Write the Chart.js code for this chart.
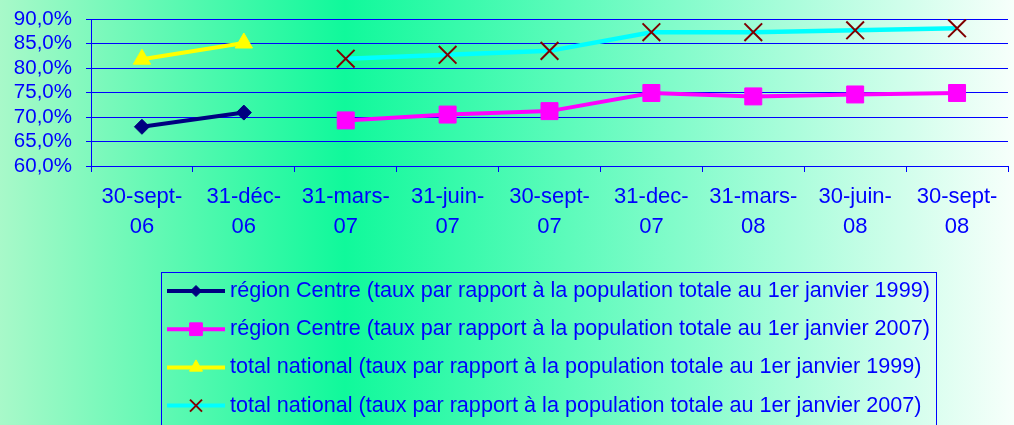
<!DOCTYPE html>
<html>
<head>
<meta charset="utf-8">
<script src="https://cdn.jsdelivr.net/npm/chart.js@4.4.1/dist/chart.umd.min.js"></script>
<style>
  html, body { margin: 0; padding: 0; background: #ffffff; }
  #wrap { width: 1014px; height: 425px; position: relative; }
</style>
</head>
<body>
<div id="wrap"><canvas id="tauxChart"></canvas></div>
<script>
// dates (2 lignes par libellé)
const categories = [
  ['30-sept-', '06'], ['31-déc-', '06'], ['31-mars-', '07'], ['31-juin-', '07'],
  ['30-sept-', '07'], ['31-dec-', '07'], ['31-mars-', '08'], ['30-juin-', '08'], ['30-sept-', '08']
];

const centre1999   = [68.0, 70.9, null, null, null, null, null, null, null];
const centre2007   = [null, null, 69.3, 70.5, 71.2, 74.9, 74.2, 74.6, 74.9];
const national1999 = [81.8, 85.1, null, null, null, null, null, null, null];
const national2007 = [null, null, 81.9, 82.7, 83.5, 87.3, 87.3, 87.7, 88.1];

const yTicks = [60, 65, 70, 75, 80, 85, 90];

const seriesLabels = [
  'région Centre (taux par rapport à la population totale au 1er janvier 1999)',
  'région Centre (taux par rapport à la population totale au 1er janvier 2007)',
  'total national (taux par rapport à la population totale au 1er janvier 1999)',
  'total national (taux par rapport à la population totale au 1er janvier 2007)'
];

const BLUE = '#0000ff';
const FONT = '"Liberation Sans", Arial, sans-serif';

// fond dégradé horizontal
const bgGradient = {
  id: 'bgGradient',
  beforeDraw(chart) {
    const { ctx, width, height } = chart;
    const g = ctx.createLinearGradient(0, 0, width, 0);
    g.addColorStop(0, '#a8f9c9');
    g.addColorStop(0.34, '#10f99b');
    g.addColorStop(1, '#f7fffb');
    ctx.save();
    ctx.fillStyle = g;
    ctx.fillRect(0, 0, width, height);
    ctx.restore();
  }
};

// légende encadrée, alignée à gauche
const legendRadius = [5.5, 9, 7.5, 8.5];
const legendBox = {
  id: 'legendBox',
  afterDraw(chart) {
    const ctx = chart.ctx;
    ctx.save();
    ctx.strokeStyle = BLUE;
    ctx.lineWidth = 1;
    ctx.strokeRect(161.5, 272.5, 775, 180);
    chart.data.datasets.forEach((ds, i) => {
      const y = 291 + i * 38.2;
      ctx.strokeStyle = ds.borderColor;
      ctx.lineWidth = 4;
      ctx.beginPath();
      ctx.moveTo(167, y);
      ctx.lineTo(225, y);
      ctx.stroke();

      ctx.fillStyle = ds.pointBackgroundColor;
      ctx.strokeStyle = ds.pointBorderColor;
      ctx.lineWidth = ds.pointBorderWidth;
      Chart.helpers.drawPoint(ctx, {
        pointStyle: ds.pointStyle,
        radius: legendRadius[i],
        borderWidth: ds.pointBorderWidth,
        rotation: 0
      }, 196, y);

      ctx.fillStyle = BLUE;
      ctx.font = '21.6px ' + FONT;
      ctx.textAlign = 'left';
      ctx.textBaseline = 'middle';
      ctx.fillText(ds.label, 230, y);
    });
    ctx.restore();
  }
};

new Chart(document.getElementById('tauxChart'), {
  type: 'line',
  data: {
    labels: categories,
    datasets: [
      {
        label: seriesLabels[0],
        data: centre1999,
        borderColor: '#000080',
        borderWidth: 4,
        pointStyle: 'rectRot',
        pointRadius: 7.5,
        pointBackgroundColor: '#000080',
        pointBorderColor: '#000080',
        pointBorderWidth: 1
      },
      {
        label: seriesLabels[1],
        data: centre2007,
        borderColor: '#ff00ff',
        borderWidth: 4,
        pointStyle: 'rect',
        pointRadius: 12,
        pointBackgroundColor: '#ff00ff',
        pointBorderColor: '#ff00ff',
        pointBorderWidth: 1
      },
      {
        label: seriesLabels[2],
        data: national1999,
        borderColor: '#ffff00',
        borderWidth: 4,
        pointStyle: 'triangle',
        pointRadius: 10,
        pointBackgroundColor: '#ffff00',
        pointBorderColor: '#ffff00',
        pointBorderWidth: 1
      },
      {
        label: seriesLabels[3],
        data: national2007,
        borderColor: '#00ffff',
        borderWidth: 4.5,
        pointStyle: 'crossRot',
        pointRadius: 12.5,
        pointBackgroundColor: '#800000',
        pointBorderColor: '#800000',
        pointBorderWidth: 2
      }
    ]
  },
  options: {
    responsive: true,
    maintainAspectRatio: false,
    animation: false,
    spanGaps: false,
    layout: { autoPadding: false, padding: { top: 19, right: 6, bottom: 169, left: 0 } },
    plugins: {
      legend: { display: false },
      tooltip: { enabled: false }
    },
    scales: {
      x: {
        offset: true,
        grid: { offset: true, drawOnChartArea: false, tickLength: 6, color: BLUE },
        border: { color: BLUE, width: 1 },
        ticks: {
          color: BLUE,
          font: { family: FONT, size: 22, lineHeight: 30 / 22 },
          padding: 10,
          maxRotation: 0,
          autoSkip: false
        },
        afterFit: s => { s.height = 90; s.paddingLeft = 0; s.paddingRight = 0; }
      },
      y: {
        min: 60,
        max: 90,
        afterBuildTicks: s => { s.ticks = yTicks.map(v => ({ value: v })); },
        grid: { color: BLUE, lineWidth: 1, tickLength: 5 },
        border: { color: BLUE, width: 1 },
        ticks: {
          color: BLUE,
          font: { family: FONT, size: 20.5 },
          padding: 14,
          autoSkip: false,
          callback: v => v.toFixed(1).replace('.', ',') + '%'
        },
        afterFit: s => { s.width = 91; s.paddingTop = 0; s.paddingBottom = 0; }
      }
    }
  },
  plugins: [bgGradient, legendBox]
});
</script>
</body>
</html>
